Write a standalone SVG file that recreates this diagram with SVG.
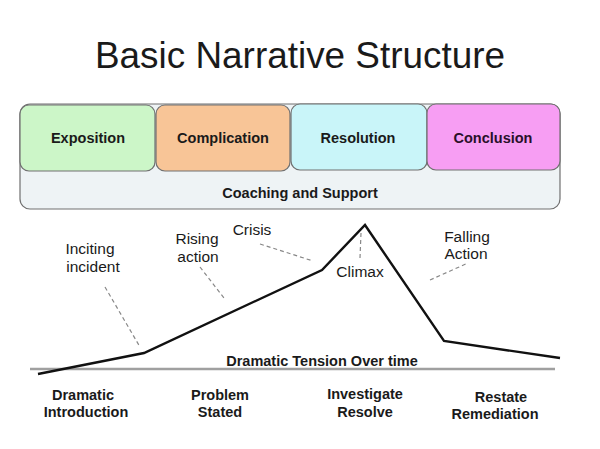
<svg xmlns="http://www.w3.org/2000/svg" width="600" height="449" viewBox="0 0 600 449">
<style>
text{font-family:"Liberation Sans",Arial,sans-serif;fill:#1a1a1a;text-anchor:middle}
.b{font-weight:bold;font-size:14.5px}
.r{font-size:15.5px}
.box{stroke:#707070;stroke-width:1.2}
.dash{stroke:#888;stroke-width:1.2;stroke-dasharray:4 3;fill:none}
</style>
<rect width="600" height="449" fill="#ffffff"/>
<text x="300" y="68" font-size="36" textLength="410" lengthAdjust="spacingAndGlyphs">Basic Narrative Structure</text>
<g id="coaching">
<rect class="box" x="20" y="104" width="540" height="105" rx="10" fill="#eef3f5"/>
<text class="b" x="300" y="198">Coaching and Support</text>
</g>
<g id="exposition">
<rect class="box" x="20" y="105" width="135" height="66" rx="9" fill="#ccf6c8"/>
<text class="b" x="88" y="143">Exposition</text>
</g>
<g id="complication">
<rect class="box" x="156" y="105" width="134" height="66" rx="9" fill="#f8c597"/>
<text class="b" x="223" y="143">Complication</text>
</g>
<g id="resolution">
<rect class="box" x="291" y="104" width="136" height="66" rx="9" fill="#c9f5f9"/>
<text class="b" x="358" y="143">Resolution</text>
</g>
<g id="conclusion">
<rect class="box" x="427" y="104" width="133" height="66" rx="9" fill="#f79ef3"/>
<text class="b" x="493" y="143" style="fill:#2a102a">Conclusion</text>
</g>
<g id="connectors">
<line x1="30" y1="369" x2="555" y2="369" stroke="#a0a0a0" stroke-width="2.5"/>
<polyline points="38,374 144,353 322,270 365,225 444,341 560,358" fill="none" stroke="#111" stroke-width="2.4" stroke-linejoin="miter"/>
<line class="dash" x1="105" y1="287" x2="140" y2="347"/>
<line class="dash" x1="200" y1="267" x2="224" y2="298"/>
<line class="dash" x1="260" y1="244" x2="313" y2="261"/>
<line class="dash" x1="361" y1="233" x2="360" y2="258"/>
<line class="dash" x1="430" y1="280" x2="468" y2="263"/>
</g>
<g id="labels">
<text class="r" x="90" y="254">Inciting</text>
<text class="r" x="93" y="272">incident</text>
<text class="r" x="197" y="244">Rising</text>
<text class="r" x="198" y="262">action</text>
<text class="r" x="252" y="235">Crisis</text>
<text class="r" x="360" y="277">Climax</text>
<text class="r" x="467" y="242">Falling</text>
<text class="r" x="466" y="259">Action</text>
<text class="b" x="322" y="366">Dramatic Tension Over time</text>
<text class="b" x="83" y="400">Dramatic</text>
<text class="b" x="86" y="417">Introduction</text>
<text class="b" x="220" y="400">Problem</text>
<text class="b" x="220" y="417">Stated</text>
<text class="b" x="365" y="399">Investigate</text>
<text class="b" x="365" y="417">Resolve</text>
<text class="b" x="501" y="402">Restate</text>
<text class="b" x="495" y="419">Remediation</text>
</g>
</svg>
